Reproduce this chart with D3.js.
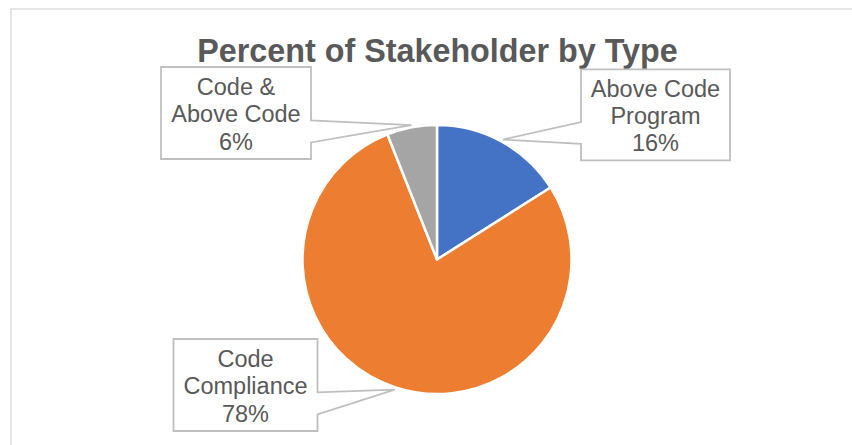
<!DOCTYPE html>
<html>
<head>
<meta charset="utf-8">
<script src="https://cdn.jsdelivr.net/npm/d3@7"></script>
<style>
  html, body { margin: 0; padding: 0; background: #ffffff; }
  svg { display: block; }
</style>
</head>
<body>
<svg id="chart" width="852" height="445"></svg>
<script>
// ---- data ----
const title = "Percent of Stakeholder by Type";
const categories = ["Above Code Program", "Code Compliance", "Code & Above Code"];
const values = [16, 78, 6];
const labelLines = [["Above Code", "Program"], ["Code", "Compliance"], ["Code &", "Above Code"]];
const percentLabels = ["16%", "78%", "6%"];
const colors = ["#4472C4", "#ED7D31", "#A5A5A5"];

// ---- layout (label callout boxes) ----
const boxLayout = [
  { cx: 655.5, cy: 114.8, w: 149, h: 91, side: "left" },
  { cx: 245.5, cy: 385,   w: 144, h: 92, side: "right" },
  { cx: 236,   cy: 113,   w: 150, h: 92, side: "right" }
];

const W = 852, H = 445;
const cx = 437, cy = 259.5, r = 134.5;
const textColor = "#595959";
const fontFamily = "'Liberation Sans', Arial, Helvetica, sans-serif";

const svg = d3.select("#chart");

// chart area border
svg.append("rect")
  .attr("x", 11).attr("y", 9)
  .attr("width", 1000).attr("height", 1000)
  .attr("fill", "#ffffff")
  .attr("stroke", "#D9D9D9")
  .attr("stroke-width", 1.3);

// title
svg.append("text")
  .attr("x", 437.5).attr("y", 61.5)
  .attr("text-anchor", "middle")
  .attr("font-family", fontFamily)
  .attr("font-weight", "bold")
  .attr("font-size", 32.3)
  .attr("fill", textColor)
  .text(title);

const pie = d3.pie().sort(null).value(d => d);
const arcs = pie(values);
const arc = d3.arc().innerRadius(0).outerRadius(r);

const g = svg.append("g").attr("transform", `translate(${cx},${cy})`);
g.selectAll("path.slice")
  .data(arcs)
  .join("path")
  .attr("class", "slice")
  .attr("d", arc)
  .attr("fill", (d, i) => colors[i])
  .attr("stroke", "#ffffff")
  .attr("stroke-width", 2.5)
  .attr("stroke-linejoin", "round");

// callouts
const tipR = r + 2.4;
arcs.forEach((d, i) => {
  const b = boxLayout[i];
  const mid = (d.startAngle + d.endAngle) / 2;
  const tx = cx + Math.sin(mid) * tipR;
  const ty = cy - Math.cos(mid) * tipR;
  const x0 = b.cx - b.w / 2, x1 = b.cx + b.w / 2;
  const y0 = b.cy - b.h / 2, y1 = b.cy + b.h / 2;
  const b1 = y0 + b.h * 0.58, b2 = y0 + b.h * 0.82;
  const p = d3.path();
  if (b.side === "right") {
    p.moveTo(x0, y0); p.lineTo(x1, y0); p.lineTo(x1, b1);
    p.lineTo(tx, ty); p.lineTo(x1, b2); p.lineTo(x1, y1);
    p.lineTo(x0, y1); p.closePath();
  } else {
    p.moveTo(x0, y0); p.lineTo(x1, y0); p.lineTo(x1, y1);
    p.lineTo(x0, y1); p.lineTo(x0, b2); p.lineTo(tx, ty);
    p.lineTo(x0, b1); p.closePath();
  }
  svg.append("path")
    .attr("d", p.toString())
    .attr("fill", "#ffffff")
    .attr("stroke", "#BFBFBF")
    .attr("stroke-width", 1.8)
    .attr("stroke-linejoin", "miter");

  const lines = labelLines[i].concat([percentLabels[i]]);
  const t = svg.append("text")
    .attr("text-anchor", "middle")
    .attr("font-family", fontFamily)
    .attr("font-size", 23.5)
    .attr("fill", textColor);
  lines.forEach((ln, k) => {
    t.append("tspan")
      .attr("x", b.cx)
      .attr("y", b.cy + 9.3 + (k - 1) * 27.2)
      .text(ln);
  });
});
</script>
</body>
</html>
